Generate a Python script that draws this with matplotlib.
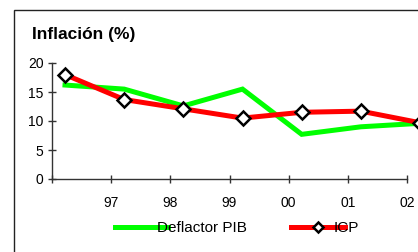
import matplotlib
matplotlib.use("Agg")
import matplotlib.pyplot as plt
from matplotlib.patches import Rectangle

years = [96.22, 97.22, 98.22, 99.22, 100.22, 101.22, 102.22]
deflactor = [16.2, 15.5, 12.6, 15.5, 7.7, 9.0, 9.6]
icp = [18.0, 13.7, 12.1, 10.5, 11.5, 11.7, 9.7]
xtick_pos = [96, 97, 98, 99, 100, 101, 102]
xtick_labels = ["", "97", "98", "99", "00", "01", "02"]
yticks = [0, 5, 10, 15, 20]

plt.rcParams['font.family'] = ['Liberation Sans', 'DejaVu Sans']

fig = plt.figure(figsize=(4.18, 2.52), dpi=100)
fig.patches.append(Rectangle((14/418, -0.1), 1.0, 1 - 10/252 + 0.1,
                             transform=fig.transFigure, fill=False,
                             edgecolor='#222222', linewidth=1.0))

ax = fig.add_axes([52/418, 1 - 179/252, (407 - 52)/418, (179 - 63)/252])
ax.plot(years, deflactor, color='#00ff00', lw=3.6, solid_joinstyle='miter',
        clip_on=False, label='Deflactor PIB', zorder=2)
ax.plot(years, icp, color='#ff0000', lw=3.6, marker='D', markersize=7,
        markerfacecolor='white', markeredgecolor='black', markeredgewidth=1.8,
        clip_on=False, label='ICP', zorder=3)

ax.set_xlim(96, 102)
ax.set_ylim(0, 20)
ax.set_xticks(xtick_pos)
ax.set_xticklabels(xtick_labels)
ax.set_yticks(yticks)
for s in ['top', 'right']:
    ax.spines[s].set_visible(False)
for s in ['left', 'bottom']:
    ax.spines[s].set_color('#333333')
    ax.spines[s].set_linewidth(1.0)
ax.tick_params(axis='both', direction='inout', length=6, width=1.0,
               color='#333333', labelsize=10, labelcolor='black')
ax.tick_params(axis='x', pad=9)
ax.tick_params(axis='y', pad=3)
ax.patch.set_visible(False)

fig.text(32/418, 1 - 35/252, "Inflación (%)", fontsize=12.5, fontweight='bold',
         va='center', ha='left')

leg = fig.legend(loc='center', bbox_to_anchor=(237/418, 1 - 228/252), ncol=2,
                 frameon=False, fontsize=11, handlelength=3.5,
                 handletextpad=-0.72, columnspacing=2.9, markerscale=0.75)

fig.savefig("out.png", dpi=100)
